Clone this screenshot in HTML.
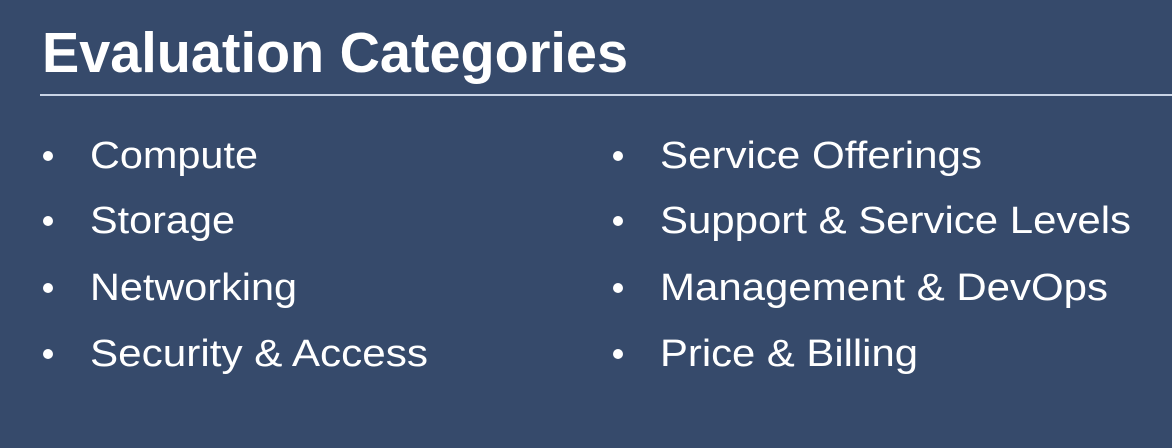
<!DOCTYPE html>
<html><head><meta charset="utf-8"><style>
html,body{margin:0;padding:0;background:#364a6b;}
svg{display:block}
text{font-family:"Liberation Sans",Arial,sans-serif;fill:#ffffff}
</style></head><body>
<svg width="1172" height="448" viewBox="0 0 1172 448">
<rect width="1172" height="448" fill="#364a6b"/>
<text x="42" y="72" font-size="57" font-weight="bold" textLength="586" lengthAdjust="spacingAndGlyphs">Evaluation Categories</text>
<rect x="40" y="94" width="1132" height="2" fill="#c9d4e6"/>
<g font-size="38">
<g><circle cx="48" cy="156" r="5" fill="#fff"/><text x="90" y="168" textLength="168" lengthAdjust="spacingAndGlyphs">Compute</text></g>
<g><circle cx="48" cy="221" r="5" fill="#fff"/><text x="90" y="233" textLength="145" lengthAdjust="spacingAndGlyphs">Storage</text></g>
<g><circle cx="48" cy="288" r="5" fill="#fff"/><text x="90" y="300" textLength="207" lengthAdjust="spacingAndGlyphs">Networking</text></g>
<g><circle cx="48" cy="354" r="5" fill="#fff"/><text x="90" y="366" textLength="338" lengthAdjust="spacingAndGlyphs">Security &amp; Access</text></g>
<g><circle cx="618" cy="156" r="5" fill="#fff"/><text x="660" y="168" textLength="322" lengthAdjust="spacingAndGlyphs">Service Offerings</text></g>
<g><circle cx="618" cy="221" r="5" fill="#fff"/><text x="660" y="233" textLength="471" lengthAdjust="spacingAndGlyphs">Support &amp; Service Levels</text></g>
<g><circle cx="618" cy="288" r="5" fill="#fff"/><text x="660" y="300" textLength="448" lengthAdjust="spacingAndGlyphs">Management &amp; DevOps</text></g>
<g><circle cx="618" cy="354" r="5" fill="#fff"/><text x="660" y="366" textLength="258" lengthAdjust="spacingAndGlyphs">Price &amp; Billing</text></g>
</g>
</svg>
</body></html>
